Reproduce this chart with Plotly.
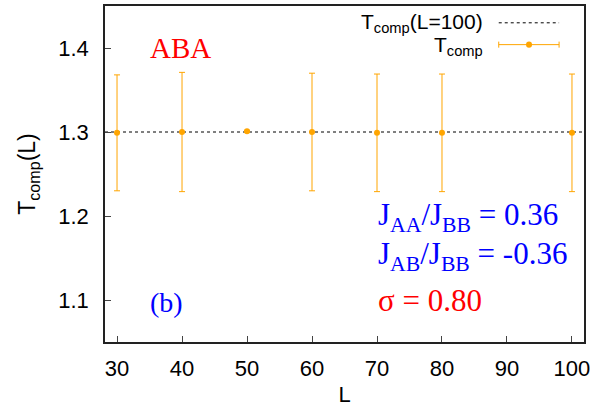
import plotly.graph_objects as go

L_values = [30, 40, 50, 60, 70, 80, 100]
T_comp = [1.299, 1.300, 1.301, 1.300, 1.299, 1.299, 1.299]
T_err = [0.069, 0.071, 0.001, 0.070, 0.070, 0.070, 0.070]
T_ref_L100 = 1.3
x_ticks = [30, 40, 50, 60, 70, 80, 90, 100]
y_ticks = [1.1, 1.2, 1.3, 1.4]

ORANGE = "#FFA500"
SANS = "Liberation Sans, Arial, sans-serif"
SERIF = "Liberation Serif, Times New Roman, serif"

fig = go.Figure()

# reference line T_comp(L=100)
fig.add_hline(y=T_ref_L100, line=dict(color="black", width=1, dash="dot"), layer="below")

fig.add_trace(go.Scatter(
    x=L_values, y=T_comp, mode="markers",
    marker=dict(color=ORANGE, size=6),
    error_y=dict(type="data", array=T_err, color=ORANGE, thickness=1, width=3),
    showlegend=False,
))

# custom legend (gnuplot style: text right-aligned, sample to the right)
fig.add_annotation(x=0.793, y=0.950, xref="paper", yref="paper", xanchor="right", yanchor="middle",
                   text="T<sub>comp</sub>(L=100)", showarrow=False, font=dict(family=SANS, size=21, color="black"))
fig.add_shape(type="line", xref="paper", yref="paper", x0=0.822, x1=0.948, y0=0.950, y1=0.950,
              line=dict(color="black", width=1, dash="dot"))
fig.add_annotation(x=0.793, y=0.880, xref="paper", yref="paper", xanchor="right", yanchor="middle",
                   text="T<sub>comp</sub>", showarrow=False, font=dict(family=SANS, size=21, color="black"))
fig.add_shape(type="line", xref="paper", yref="paper", x0=0.822, x1=0.948, y0=0.885, y1=0.885,
              line=dict(color=ORANGE, width=1))
fig.add_shape(type="line", xref="paper", yref="paper", x0=0.822, x1=0.822, y0=0.876, y1=0.894,
              line=dict(color=ORANGE, width=1))
fig.add_shape(type="line", xref="paper", yref="paper", x0=0.948, x1=0.948, y0=0.876, y1=0.894,
              line=dict(color=ORANGE, width=1))
fig.add_shape(type="circle", xref="paper", yref="paper", x0=0.8790, x1=0.8915, y0=0.876, y1=0.894,
              fillcolor=ORANGE, line=dict(color=ORANGE, width=0))

# text labels
fig.add_annotation(x=0.157, y=0.876, xref="paper", yref="paper", xanchor="center", yanchor="middle",
                   text="ABA", showarrow=False, font=dict(family=SERIF, size=29, color="red"))
fig.add_annotation(x=0.129, y=0.118, xref="paper", yref="paper", xanchor="center", yanchor="middle",
                   text="(b)", showarrow=False, font=dict(family=SERIF, size=28, color="blue"))
fig.add_annotation(x=0.565, y=0.373, xref="paper", yref="paper", xanchor="left", yanchor="middle",
                   text="J<sub>AA</sub>/J<sub>BB</sub> = 0.36", showarrow=False,
                   font=dict(family=SERIF, size=31, color="blue"))
fig.add_annotation(x=0.565, y=0.257, xref="paper", yref="paper", xanchor="left", yanchor="middle",
                   text="J<sub>AB</sub>/J<sub>BB</sub> = -0.36", showarrow=False,
                   font=dict(family=SERIF, size=31, color="blue"))
fig.add_annotation(x=0.565, y=0.124, xref="paper", yref="paper", xanchor="left", yanchor="middle",
                   text="σ = 0.80", showarrow=False,
                   font=dict(family=SERIF, size=31, color="red"))

fig.update_layout(
    width=612, height=413,
    margin=dict(l=105, r=28, t=4, b=71),
    paper_bgcolor="white", plot_bgcolor="white",
    font=dict(family=SANS, size=22, color="black"),
    xaxis=dict(range=[28.15, 101.85], tickvals=x_ticks, ticks="inside", ticklen=6, mirror=True,
               showline=True, linecolor="#222", linewidth=1.5, showgrid=False, zeroline=False,
               ticklabelstandoff=6,
               title=dict(text="L", font=dict(size=22), standoff=6)),
    yaxis=dict(range=[1.05, 1.45], tickvals=y_ticks, tickformat=".1f", ticks="inside", ticklen=6,
               mirror=True, showline=True, linecolor="#222", linewidth=1.5, showgrid=False,
               zeroline=False, ticklabelstandoff=10,
               title=dict(text="T<sub>comp</sub>(L)", font=dict(size=23), standoff=16)),
)

fig.write_html("out.html", config={"displayModeBar": False},
               post_script="document.body.style.margin='0';")
